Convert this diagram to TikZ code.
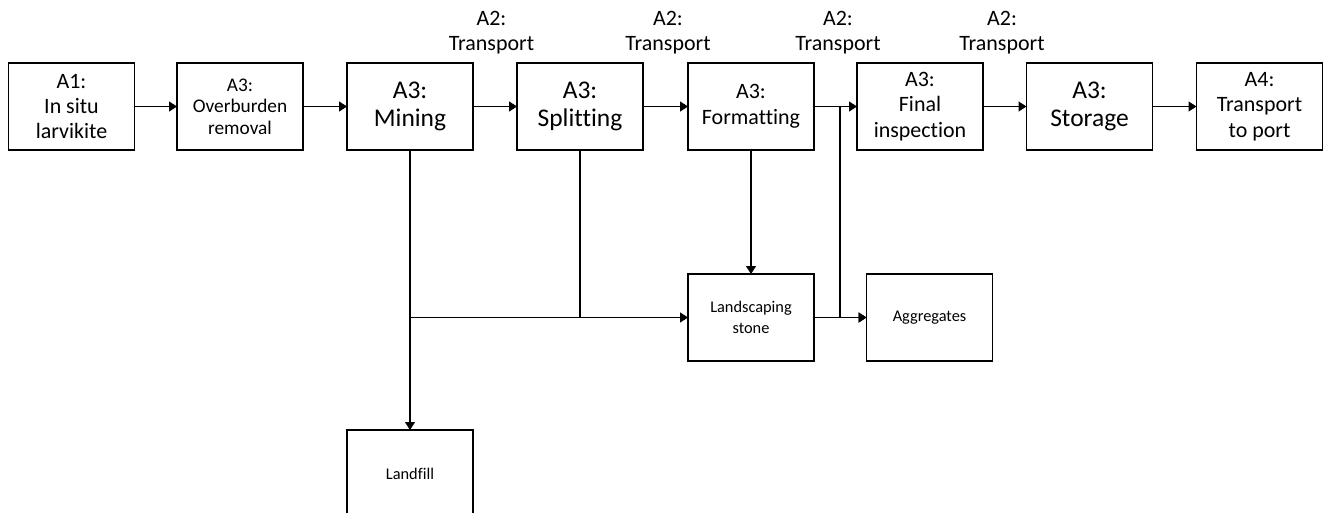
\documentclass[tikz,border=0pt]{standalone}
\usepackage{fontspec}
\setmainfont{Carlito}[Ligatures={NoCommon}]
\usetikzlibrary{arrows.meta}

\begin{document}
\begin{tikzpicture}[x=0.02cm, y=-0.02cm,
        stage/.style={draw, line width=0.7pt, minimum width=2.52cm, minimum height=1.74cm,
            inner sep=0pt, outer sep=0pt, align=center},
        txtbig/.style={font=\fontsize{14.5}{16}\selectfont},
        txtmid/.style={font=\fontsize{12.5}{14.5}\selectfont},
        txtsmall/.style={font=\fontsize{11}{12.3}\selectfont},
        txtlow/.style={font=\fontsize{9.3}{11.7}\selectfont},
        flow/.style={-{Triangle[length=0.16cm, width=0.2cm]}, line width=0.7pt}]
    \clip (0, 0) rectangle (1323, 513);
    % main chain
    \node (a1) at (71.5, 106.5) [stage, txtmid] {A1:\\In situ\\larvikite};
    \node (over) at (240, 106.5) [stage, txtsmall] {A3:\\Overburden\\removal};
    \node (mine) at (410, 106.5) [stage, txtbig] {A3:\\Mining};
    \node (split) at (580, 106.5) [stage, txtbig] {A3:\\Splitting};
    \node (form) at (751, 106.5) [stage, txtmid] {A3:\\Formatting};
    \node (final) at (920, 106.5) [stage, txtmid] {A3:\\Final\\inspection};
    \node (store) at (1089.5, 106.5) [stage, txtbig] {A3:\\Storage};
    \node (a4) at (1259.5, 106.5) [stage, txtmid] {A4:\\Transport\\to port};
    % transport labels
    \node (t1) at (491.5, 32.5) [txtmid, align=center] {A2:\\Transport};
    \node (t2) at (668, 32.5) [txtmid, align=center] {A2:\\Transport};
    \node (t3) at (838, 32.5) [txtmid, align=center] {A2:\\Transport};
    \node (t4) at (1002, 32.5) [txtmid, align=center] {A2:\\Transport};
    % by-products
    \node (land) at (751, 317.5) [stage, txtlow] {Landscaping\\stone};
    \node (aggr) at (929.5, 317.5) [stage, txtlow] {Aggregates};
    \node (fill) at (410, 473.5) [stage, txtlow] {Landfill};
    \coordinate (br) at (840, 106.5);
    \draw[flow] (a1) -- (over);
    \draw[flow] (over) -- (mine);
    \draw[flow] (mine) -- (split);
    \draw[flow] (split) -- (form);
    \draw[flow] (form) -- (final);
    \draw[flow] (final) -- (store);
    \draw[flow] (store) -- (a4);
    \draw[flow] (form) -- (land);
    \draw[flow] (mine) -- (fill);
    \draw[line width=0.7pt] (split) -- (split |- land);
    \draw[flow] (mine |- land) -- (land);
    \draw[flow] (land) -- (aggr);
    \draw[flow] (br) |- (aggr);
\end{tikzpicture}
\end{document}
